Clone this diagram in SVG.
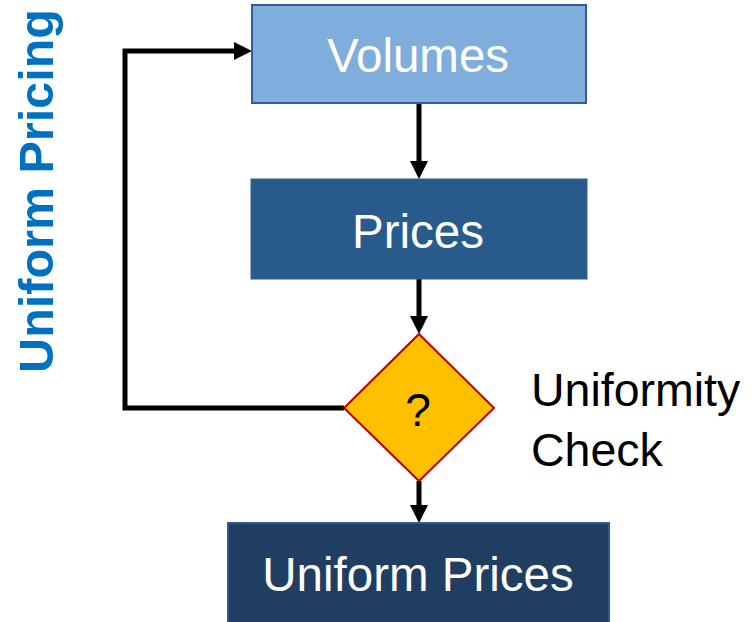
<svg xmlns="http://www.w3.org/2000/svg" width="752" height="622" viewBox="0 0 752 622">
<style>
.box-text{font-family:"Liberation Sans",Arial,sans-serif;font-size:47.5px;fill:#ffffff;text-anchor:middle}
.label{font-family:"Liberation Sans",Arial,sans-serif;font-size:46.5px;fill:#000000}
.conn{fill:none;stroke:#000000;stroke-width:5;marker-end:url(#arrow)}
</style>
<defs>
<marker id="arrow" viewBox="0 0 18 18" refX="8" refY="9" markerWidth="18" markerHeight="18" markerUnits="userSpaceOnUse" orient="auto">
<path d="M0,0 L18,9 L0,18 z" fill="#000000"/>
</marker>
</defs>
<rect width="752" height="622" fill="#ffffff"/>
<g id="title">
<text transform="translate(53,191) rotate(-90)" font-family="'Liberation Sans',Arial,sans-serif" font-size="48.5" font-weight="bold" fill="#0070C0" text-anchor="middle">Uniform Pricing</text>
</g>
<g id="connectors">
<path class="conn" d="M419,103 V169"/>
<path class="conn" d="M419,279 V324"/>
<path class="conn" d="M419,481 V513"/>
<path class="conn" d="M344,408 H125 V51 H242"/>
</g>
<g id="volumes">
<rect x="252" y="5" width="334" height="98" fill="#80AEDC" stroke="#2F5F98" stroke-width="2"/>
<text class="box-text" x="418" y="72">Volumes</text>
</g>
<g id="prices">
<rect x="251" y="179" width="336" height="100" fill="#295A8C" stroke="#2F5F98" stroke-width="1"/>
<text class="box-text" x="418" y="248">Prices</text>
</g>
<g id="check">
<polygon points="419,334 494,408 419,481 344,408" fill="#FFC000" stroke="#C00000" stroke-width="2"/>
<text x="418" y="426" font-family="'Liberation Sans',Arial,sans-serif" font-size="46" fill="#000000" text-anchor="middle">?</text>
</g>
<g id="check-label">
<text class="label" x="531" y="406">Uniformity</text>
<text class="label" x="531" y="466">Check</text>
</g>
<g id="uniform-prices">
<rect x="228" y="523" width="381" height="110" fill="#1F3E61" stroke="#2F5C8F" stroke-width="2"/>
<text class="box-text" x="418" y="591">Uniform Prices</text>
</g>
</svg>
